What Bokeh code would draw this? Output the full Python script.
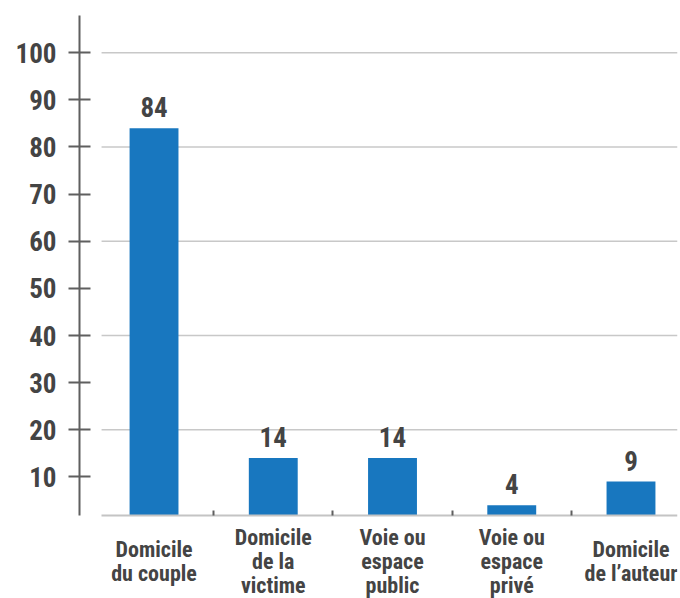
from bokeh.plotting import figure
from bokeh.models import (Range1d, LinearAxis, FixedTicker, ColumnDataSource, LabelSet)
from bokeh.core.properties import value
from bokeh.embed import file_html
from bokeh.resources import INLINE

# ---- data ----
categories = ["Domicile\ndu couple", "Domicile\nde la\nvictime", "Voie ou\nespace\npublic",
              "Voie ou\nespace\nprivé", "Domicile\nde l’auteur"]
values = [84, 14, 14, 4, 9]
value_labels = ["84", "14", "14", "4", "9"]
y_ticks = [10, 20, 30, 40, 50, 60, 70, 80, 90, 100]
grid_ticks = [20, 40, 60, 80, 100]

FONT = "Liberation Sans Narrow, Roboto Condensed, Arial Narrow, sans-serif"
TEXT = "#444444"
AXIS = "#5f5f5f"
BAR = "#1877bf"
GRID = "#c8c8c8"

y_base, y_top = 1.8, 107.9        # visible value axis extent
y_frame_start = -15.8             # frame continues below to hold the category labels
x_start, x_end = -0.625, 4.39
grid_x0 = -0.44
LABEL_CENTER = -53                # px below the baseline (centre of label block)
LINE_PITCH = 24                   # px between label lines
xs = list(range(len(values)))

p = figure(width=680, height=598, output_backend="svg", toolbar_location=None,
           x_range=Range1d(x_start, x_end), y_range=Range1d(y_frame_start, y_top),
           x_axis_location=None, y_axis_location=None,
           min_border_left=79, min_border_right=3, min_border_top=15, min_border_bottom=0)
p.outline_line_color = None
p.background_fill_color = "white"
p.border_fill_color = "white"
p.grid.visible = False

# horizontal grid lines (starting a little right of the y axis)
n = len(grid_ticks)
p.segment(x0=[grid_x0] * n, x1=[x_end] * n, y0=grid_ticks, y1=grid_ticks,
          line_color=GRID, line_width=1.5)

yaxis = LinearAxis(ticker=FixedTicker(ticks=y_ticks), bounds=(y_base, y_top),
                   major_tick_out=11, major_tick_in=11,
                   minor_tick_out=0, minor_tick_in=0,
                   axis_line_color=AXIS, axis_line_width=2,
                   major_tick_line_color=AXIS, major_tick_line_width=2,
                   major_label_standoff=12,
                   major_label_text_font=FONT, major_label_text_font_style="bold",
                   major_label_text_font_size="27px", major_label_text_color=TEXT)
p.add_layout(yaxis, "left")

src = ColumnDataSource(dict(x=xs, top=values, lab=value_labels,
                            base=[y_base] * len(values)))
p.vbar(x="x", top="top", bottom="base", width=0.41, source=src,
       fill_color=BAR, line_color=None)

# baseline with category separators
xaxis = LinearAxis(ticker=FixedTicker(ticks=[0.5, 1.5, 2.5, 3.5]), bounds=(grid_x0, x_end),
                   fixed_location=y_base,
                   major_tick_in=5, major_tick_out=0, minor_tick_in=0, minor_tick_out=0,
                   axis_line_color="#c4c4c4", axis_line_width=2,
                   major_tick_line_color=AXIS, major_tick_line_width=2,
                   major_label_text_color=None, major_label_text_font_size="1px")
p.add_layout(xaxis, "below")

p.add_layout(LabelSet(x="x", y="top", text="lab", source=src, y_offset=11,
                      text_align="center", text_baseline="alphabetic",
                      text_font=value(FONT), text_font_style="bold",
                      text_font_size="27px", text_color=TEXT))

# category labels: one centred row per line, block centred vertically
lx, ly, lt, lo = [], [], [], []
for xi, cat in zip(xs, categories):
    lines = cat.split("\n")
    m = len(lines)
    for k, line in enumerate(lines):
        lx.append(xi)
        ly.append(y_base)
        lt.append(line)
        lo.append(LABEL_CENTER - (k - (m - 1) / 2) * LINE_PITCH)
cat_src = ColumnDataSource(dict(x=lx, y=ly, t=lt, off=lo))
p.add_layout(LabelSet(x="x", y="y", text="t", y_offset="off", source=cat_src,
                      text_align="center", text_baseline="alphabetic",
                      text_font=value(FONT), text_font_style="bold",
                      text_font_size="22px", text_color=TEXT))

open("out.html", "w").write(file_html(p, INLINE))
